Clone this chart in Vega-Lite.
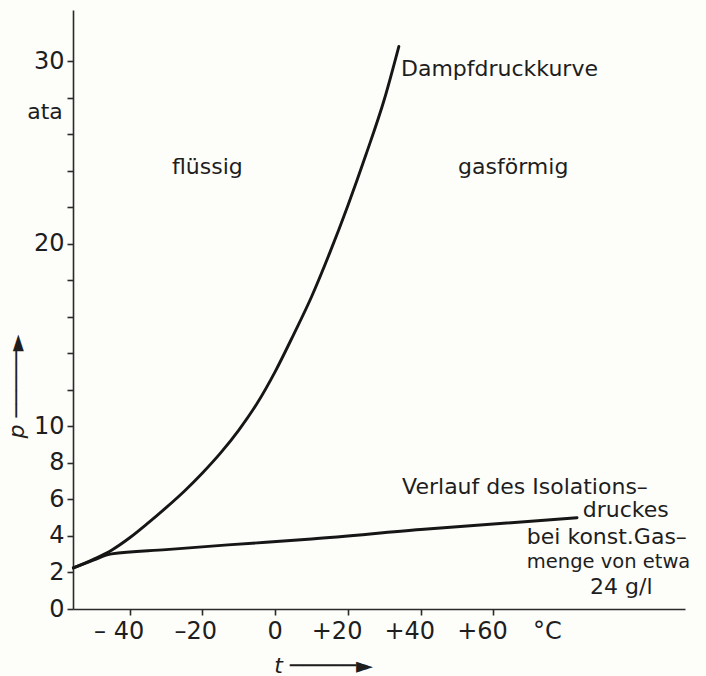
{
  "$schema": "https://vega.github.io/schema/vega-lite/v6.json",
  "width": 612,
  "height": 599,
  "autosize": "none",
  "padding": {"left": 73, "top": 10, "right": 21, "bottom": 67},
  "background": "#fdfdfa",
  "config": {
    "view": {"stroke": null},
    "font": "DejaVu Sans",
    "axis": {
      "domainColor": "#2a2a2a",
      "domainWidth": 1.6,
      "tickColor": "#2a2a2a",
      "tickWidth": 1.6,
      "tickSize": 6,
      "grid": false,
      "labelFont": "DejaVu Sans",
      "labelFontSize": 24,
      "labelColor": "#1e1e1e",
      "titleFont": "DejaVu Sans",
      "titleFontSize": 22,
      "titleFontWeight": "normal",
      "titleColor": "#1e1e1e"
    }
  },
  "datasets": {
    "curves": [
      {"series": "Dampfdruck", "t": -55.5, "p": 2.25},
      {"series": "Dampfdruck", "t": -50, "p": 2.72},
      {"series": "Dampfdruck", "t": -45, "p": 3.22},
      {"series": "Dampfdruck", "t": -40, "p": 3.9},
      {"series": "Dampfdruck", "t": -35, "p": 4.7},
      {"series": "Dampfdruck", "t": -30, "p": 5.55},
      {"series": "Dampfdruck", "t": -25, "p": 6.45},
      {"series": "Dampfdruck", "t": -20, "p": 7.45},
      {"series": "Dampfdruck", "t": -15, "p": 8.55},
      {"series": "Dampfdruck", "t": -10, "p": 9.8},
      {"series": "Dampfdruck", "t": -5, "p": 11.25},
      {"series": "Dampfdruck", "t": 0, "p": 13.0},
      {"series": "Dampfdruck", "t": 5, "p": 15.0},
      {"series": "Dampfdruck", "t": 10, "p": 17.1},
      {"series": "Dampfdruck", "t": 15, "p": 19.5},
      {"series": "Dampfdruck", "t": 20, "p": 22.1},
      {"series": "Dampfdruck", "t": 25, "p": 24.9},
      {"series": "Dampfdruck", "t": 30, "p": 27.9},
      {"series": "Dampfdruck", "t": 34, "p": 30.8},
      {"series": "Isolation", "t": -55.5, "p": 2.25},
      {"series": "Isolation", "t": -50, "p": 2.68},
      {"series": "Isolation", "t": -45, "p": 3.02},
      {"series": "Isolation", "t": -30, "p": 3.25},
      {"series": "Isolation", "t": -13, "p": 3.51},
      {"series": "Isolation", "t": 10, "p": 3.83},
      {"series": "Isolation", "t": 40, "p": 4.35},
      {"series": "Isolation", "t": 83, "p": 5.0}
    ],
    "labels": [
      {"label": "Dampfdruckkurve", "t": 34.6, "p": 29.55},
      {"label": "flüssig", "t": -28.4, "p": 24.2},
      {"label": "gasförmig", "t": 50.3, "p": 24.2},
      {"label": "ata", "t": -68.2, "p": 27.2},
      {"label": "Verlauf des Isolations–", "t": 34.9, "p": 6.69},
      {"label": "druckes", "t": 84.6, "p": 5.43},
      {"label": "bei konst.Gas–", "t": 69.2, "p": 3.95},
      {"label": "24 g/l", "t": 86.6, "p": 1.21}
    ],
    "narrow": [
      {"label": "menge von etwa", "t": 69.2, "p": 2.58}
    ],
    "unit": [
      {"label": "°C", "t": 70.9, "p": -1.26}
    ]
  },
  "layer": [
    {
      "data": {"name": "curves"},
      "mark": {"type": "line", "interpolate": "monotone", "color": "#161616", "strokeWidth": 2.9, "strokeCap": "round"},
      "encoding": {
        "x": {
          "field": "t", "type": "quantitative",
          "scale": {"domain": [-55.6, 112.7], "nice": false, "zero": false},
          "axis": {
            "values": [-40, -20, 0, 20, 40, 60],
            "tickCount": 20,
            "labelExpr": "datum.value == -40 ? '– 40' : datum.value == -20 ? '–20' : datum.value == 0 ? '0' : '+' + datum.value",
            "labelAlign": "right",
            "labelOffset": {"condition": {"test": "datum.value == 0", "value": 7}, "value": 14},
            "labelPadding": 4,
            "labelFlush": false,
            "labelOverlap": false,
            "title": "t ─────►",
            "titleFontStyle": "italic",
            "titleX": 250,
            "titleY": 56,
            "titleAlign": "center",
            "titleBaseline": "middle"
          }
        },
        "y": {
          "field": "p", "type": "quantitative",
          "scale": {"domain": [0, 32.8], "nice": false},
          "axis": {
            "values": [0, 2, 4, 6, 8, 10, 12, 14, 16, 18, 20, 22, 24, 26, 28, 30],
            "tickCount": 40,
            "labelExpr": "(datum.value <= 10 || datum.value == 20 || datum.value == 30) ? ('' + datum.value) : ''",
            "labelPadding": 3,
            "labelBaseline": "middle",
            "labelOverlap": false,
            "labelFlush": false,
            "labelBound": false,
            "title": "p ─────►",
            "titleFontStyle": "italic",
            "titleX": -57,
            "titleY": 376,
            "titleAngle": -90,
            "titleAlign": "center",
            "titleBaseline": "middle"
          }
        },
        "detail": {"field": "series", "type": "nominal"}
      }
    },
    {
      "data": {"name": "labels"},
      "mark": {"type": "text", "align": "left", "baseline": "middle", "fontSize": 22, "color": "#1e1e1e", "font": "DejaVu Sans"},
      "encoding": {
        "x": {"field": "t", "type": "quantitative"},
        "y": {"field": "p", "type": "quantitative"},
        "text": {"field": "label", "type": "nominal"}
      }
    },
    {
      "data": {"name": "narrow"},
      "mark": {"type": "text", "align": "left", "baseline": "middle", "fontSize": 19.5, "color": "#1e1e1e", "font": "DejaVu Sans"},
      "encoding": {
        "x": {"field": "t", "type": "quantitative"},
        "y": {"field": "p", "type": "quantitative"},
        "text": {"field": "label", "type": "nominal"}
      }
    },
    {
      "data": {"name": "unit"},
      "mark": {"type": "text", "align": "left", "baseline": "middle", "fontSize": 24, "color": "#1e1e1e", "font": "DejaVu Sans"},
      "encoding": {
        "x": {"field": "t", "type": "quantitative"},
        "y": {"field": "p", "type": "quantitative"},
        "text": {"field": "label", "type": "nominal"}
      }
    }
  ]
}
